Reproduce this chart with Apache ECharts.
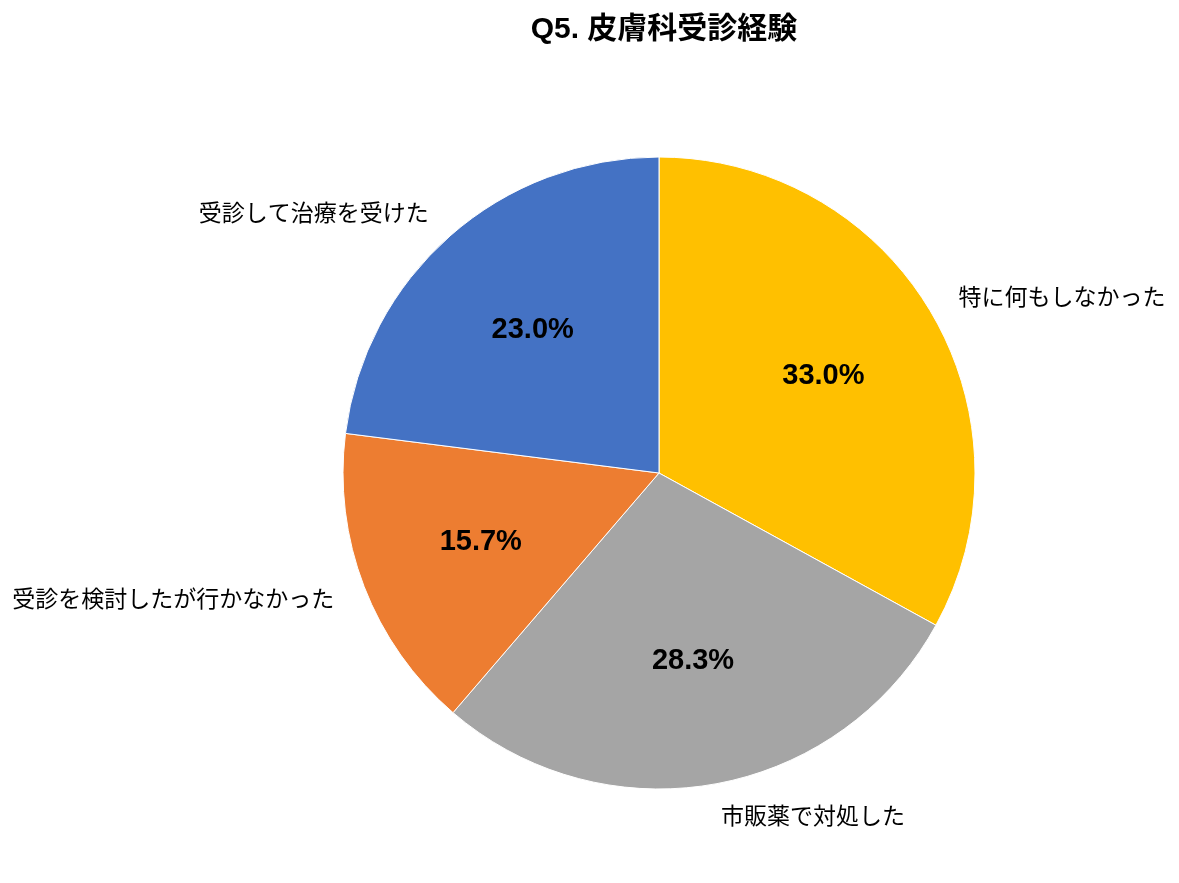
<!DOCTYPE html>
<html>
<head>
<meta charset="utf-8">
<script src="https://cdn.jsdelivr.net/npm/echarts@6/dist/echarts.min.js"></script>
<style>
html,body{margin:0;padding:0;background:#fff;}
#chart{width:1179px;height:883px;}
</style>
</head>
<body>
<div id="chart"></div>
<script>
const titleText = 'Q5. 皮膚科受診経験';
const categories = ['特に何もしなかった', '市販薬で対処した', '受診を検討したが行かなかった', '受診して治療を受けた'];
const values = [33.0, 28.3, 15.7, 23.0];
const colors = ['#FFC000', '#A5A5A5', '#ED7D31', '#4472C4'];

const font = '"Noto Sans CJK JP", "Noto Sans", sans-serif';
const numFont = '"Liberation Sans", "Noto Sans CJK JP", sans-serif';
const data = categories.map((c, i) => ({ name: c, value: values[i], itemStyle: { color: colors[i] } }));
const ghost = categories.map((c, i) => ({ name: c, value: values[i] }));

const chart = echarts.init(document.getElementById('chart'), null, { renderer: 'canvas' });
chart.setOption({
  backgroundColor: '#ffffff',
  animation: false,
  title: {
    text: titleText,
    left: 659,
    top: 10,
    textAlign: 'center',
    textStyle: { fontFamily: numFont, fontSize: 30, fontWeight: 'bold', color: '#000' }
  },
  series: [
    {
      type: 'pie',
      center: [659, 473],
      radius: [0, 316],
      startAngle: 90,
      clockwise: true,
      silent: true,
      itemStyle: { borderColor: '#fff', borderWidth: 1 },
      label: {
        show: true,
        position: 'outside',
        formatter: '{b}',
        fontFamily: font,
        fontSize: 23,
        color: '#000',
        distanceToLabelLine: 0
      },
      labelLine: { show: false, length: 32, length2: 0 },
      data: data
    },
    {
      type: 'pie',
      center: [659, 473],
      radius: [0, 376],
      startAngle: 90,
      clockwise: true,
      silent: true,
      z: 5,
      itemStyle: { color: 'rgba(0,0,0,0)', borderWidth: 0 },
      label: {
        show: true,
        position: 'inside',
        formatter: p => p.value.toFixed(1) + '%',
        fontFamily: numFont,
        fontSize: 29,
        fontWeight: 'bold',
        color: '#000'
      },
      labelLine: { show: false },
      data: ghost
    }
  ]
});
</script>
</body>
</html>
